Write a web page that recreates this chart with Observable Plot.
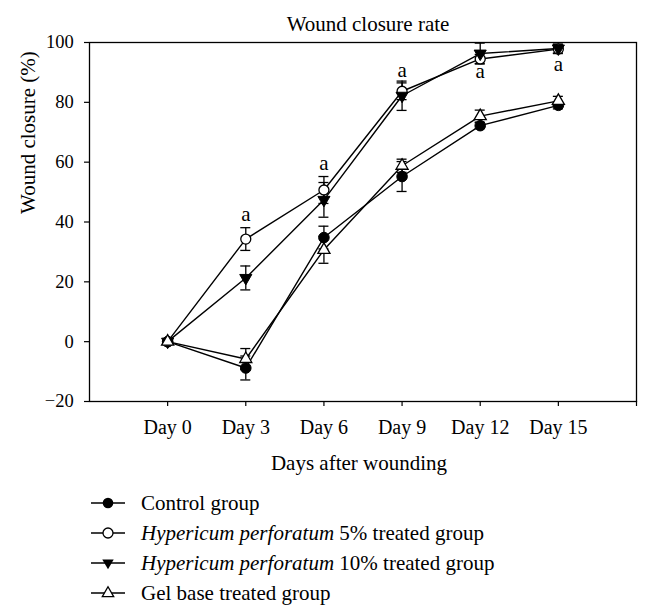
<!DOCTYPE html>
<html><head><meta charset="utf-8">
<script src="https://cdn.jsdelivr.net/npm/d3@7"></script>
<script src="https://cdn.jsdelivr.net/npm/@observablehq/plot@0.6"></script>
<style>
body{margin:0;background:#fff;}
#wrap{position:relative;width:650px;height:611px;font-family:"Liberation Serif",serif;color:#000;background:#fff;overflow:hidden;}
#legend{position:absolute;left:91px;top:488px;font-size:21px;}
.row{height:30px;display:flex;align-items:center;}
.row svg{flex:none;}
.row span{margin-left:16px;white-space:nowrap;}
</style></head><body><div id="wrap"><div id="chart"></div><div id="legend"></div></div>
<script>
// ---- data ----
const days = [0, 3, 6, 9, 12, 15];
const seriesNames = ["Control group", "Hypericum perforatum 5% treated group", "Hypericum perforatum 10% treated group", "Gel base treated group"];
const controlMean = [0, -8.8, 34.8, 55.2, 72.2, 79.0];
const controlErr  = [0, 4.0, 3.8, 5.0, 1.0, 1.2];
const hp5Mean     = [0, 34.3, 50.7, 83.7, 94.5, 97.8];
const hp5Err      = [0, 3.8, 4.5, 2.8, 1.5, 1.5];
const hp10Mean    = [0, 21.3, 47.4, 82.2, 96.3, 98.0];
const hp10Err     = [0, 4.0, 5.8, 4.9, 3.5, 1.5];
const gelMean     = [0, -5.8, 30.7, 58.8, 75.4, 80.5];
const gelErr      = [0, 3.5, 4.5, 2.2, 2.0, 1.5];
const yTicks = [-20, 0, 20, 40, 60, 80, 100];
const xTicks = [0, 3, 6, 9, 12, 15, 18];
const xTickLabels = ["Day 0", "Day 3", "Day 6", "Day 9", "Day 12", "Day 15", ""];
const sigDays = [3, 6, 9, 12, 15];
const sigY = [42.0, 58.8, 90.1, 89.8, 92.1];
const sigLabel = "a";
const titleText = "Wound closure rate";
const xTitle = "Days after wounding";
const yTitle = "Wound closure (%)";

// ---- build table ----
const means = [controlMean, hp5Mean, hp10Mean, gelMean];
const errs = [controlErr, hp5Err, hp10Err, gelErr];
const rows = seriesNames.flatMap((name, s) => days.map((d, i) => ({series: name, s, day: d, v: means[s][i], e: errs[s][i]})));
const bars = rows.filter(d => d.e > 0);
const sig = sigDays.map((d, i) => ({day: d, y: sigY[i]}));
const bySeries = s => rows.filter(d => d.s === s);

const chart = Plot.plot({
  width: 650, height: 480,
  marginLeft: 89, marginRight: 14, marginTop: 42, marginBottom: 79,
  x: {domain: [-3, 18]},
  y: {domain: [-20, 100]},
  style: {fontFamily: "Liberation Serif, serif", fontSize: "19px", color: "black", background: "white", overflow: "visible"},
  marks: [
    Plot.axisY({ticks: yTicks, tickSize: 5, tickPadding: 10.7, fontSize: 18.5, label: null, strokeWidth: 1.2}),
    Plot.axisX({ticks: xTicks, tickFormat: d => xTickLabels[xTicks.indexOf(d)], tickSize: 5, tickPadding: 12.8, fontSize: 20, label: null, strokeWidth: 1.2}),
    Plot.line(rows, {x: "day", y: "v", z: "series", stroke: "black", strokeWidth: 1.4}),
    Plot.ruleX(bars, {x: "day", y1: d => d.v - d.e, y2: d => d.v + d.e, stroke: "black", strokeWidth: 1.3}),
    Plot.ruleY(bars, {y: d => d.v + d.e, x1: "day", x2: "day", insetLeft: -5, insetRight: -5, stroke: "black", strokeWidth: 1.3}),
    Plot.ruleY(bars, {y: d => d.v - d.e, x1: "day", x2: "day", insetLeft: -5, insetRight: -5, stroke: "black", strokeWidth: 1.3}),
    Plot.dot(bySeries(0), {x: "day", y: "v", symbol: "circle", r: 5.3, fill: "black", stroke: "black", strokeWidth: 1}),
    Plot.dot(bySeries(1), {x: "day", y: "v", symbol: "circle", r: 5, fill: "white", stroke: "black", strokeWidth: 1.3}),
    Plot.dot(bySeries(2), {x: "day", y: "v", symbol: "triangle", r: 4.5, rotate: 180, fill: "black", stroke: "black", strokeWidth: 1}),
    Plot.dot(bySeries(3), {x: "day", y: "v", symbol: "triangle", r: 4.5, fill: "white", stroke: "black", strokeWidth: 1.3}),
    Plot.text(sig, {x: "day", y: "y", text: () => sigLabel, fontSize: 21, dy: -2, fill: "black"}),
    Plot.frame({stroke: "black", strokeWidth: 1.3}),
    Plot.text([titleText], {frameAnchor: "top", dx: 5, dy: -18.7, lineAnchor: "middle", fontSize: 21, fill: "black"}),
    Plot.text([xTitle], {frameAnchor: "bottom", dx: -4, dy: 61.3, lineAnchor: "middle", fontSize: 21, fill: "black"}),
    Plot.text([yTitle], {frameAnchor: "left", rotate: -90, dx: -61, dy: -8, lineAnchor: "middle", fontSize: 21, fill: "black"})
  ]
});
document.getElementById("chart").appendChild(chart);

// ---- legend ----
const symSvg = [
  '<circle cx="17" cy="15" r="5.3" fill="black"/>',
  '<circle cx="17" cy="15" r="5" fill="white" stroke="black" stroke-width="1.3"/>',
  '<path d="M11.3,11.4 L22.7,11.4 L17,21.3 Z" fill="black"/>',
  '<path d="M11.3,18.6 L22.7,18.6 L17,8.7 Z" fill="white" stroke="black" stroke-width="1.3"/>'
];
const legend = document.getElementById("legend");
seriesNames.forEach((name, i) => {
  const row = document.createElement("div");
  row.className = "row";
  const label = name.startsWith("Hypericum perforatum")
    ? "<i>Hypericum perforatum</i>" + name.slice("Hypericum perforatum".length)
    : name;
  row.innerHTML = `<svg width="34" height="30"><line x1="0" y1="15" x2="34" y2="15" stroke="black" stroke-width="1.4"/>${symSvg[i]}</svg><span>${label}</span>`;
  legend.appendChild(row);
});
</script>
</body></html>
